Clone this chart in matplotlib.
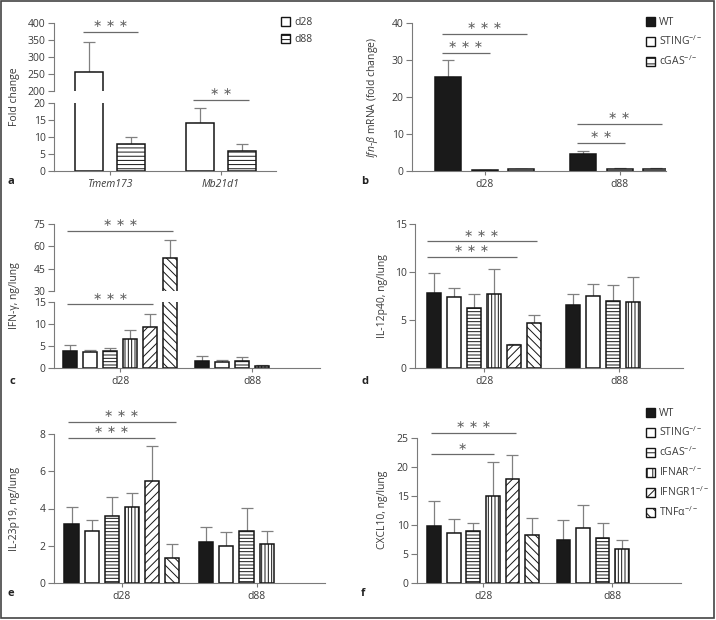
import numpy as np
import matplotlib
matplotlib.use("Agg")
from matplotlib import pyplot as plt
from matplotlib.patches import Patch, Rectangle

plt.rcParams['font.family'] = ['Open Sans', 'DejaVu Sans']
plt.rcParams['mathtext.fontset'] = 'custom'
plt.rcParams['mathtext.rm'] = 'Open Sans'
plt.rcParams['mathtext.it'] = 'Open Sans:italic'
plt.rcParams['hatch.linewidth'] = 0.7

# ---- data ----
genes = ['Tmem173', 'Mb21d1']
a_d28 = [255, 14.2]
a_d28_top = [343, 18.4]
a_d88 = [7.8, 5.9]
a_d88_top = [9.9, 7.9]

days = ['d28', 'd88']
genotypes = ['WT', 'STING', 'cGAS', 'IFNAR', 'IFNGR1', 'TNFα']

b_d28 = [25.5, 0.3, 0.5]
b_d28_top = [30.0, 0.4, 0.6]
b_d88 = [4.6, 0.6, 0.6]
b_d88_top = [5.4, 0.7, 0.7]

c_d28 = [3.9, 3.6, 3.8, 6.6, 9.4, 52.0]
c_d28_top = [5.2, 4.2, 4.5, 8.7, 12.2, 64.5]
c_d88 = [1.6, 1.3, 1.5, 0.5]
c_d88_top = [2.8, 1.9, 2.4, 0.6]

d_d28 = [7.8, 7.4, 6.3, 7.7, 2.4, 4.7]
d_d28_top = [9.9, 8.3, 7.7, 10.3, 2.5, 5.5]
d_d88 = [6.6, 7.5, 7.0, 6.9]
d_d88_top = [7.7, 8.7, 8.6, 9.5]

e_d28 = [3.15, 2.8, 3.6, 4.1, 5.5, 1.35]
e_d28_top = [4.1, 3.4, 4.6, 4.85, 7.35, 2.1]
e_d88 = [2.2, 2.0, 2.8, 2.1]
e_d88_top = [3.0, 2.75, 4.05, 2.8]

f_d28 = [9.9, 8.6, 9.0, 15.0, 18.0, 8.2]
f_d28_top = [14.2, 11.0, 10.4, 20.8, 22.1, 11.2]
f_d88 = [7.5, 9.4, 7.7, 5.9]
f_d88_top = [10.9, 13.4, 10.3, 7.4]

# ---- styles ----
W, H = 716, 620
AX_C = '#7a7a7a'
TXT_C = '#3a3a3a'
ERR_C = '#808080'
SIG_C = '#6a6a6a'
EDGE = '#151515'
faces = ['#1a1a1a', 'white', 'white', 'white', 'white', 'white']
hatches = ['', '', '-----', '|||||', '////', '\\\\\\\\']
leg_labels = ['WT', r'STING$^{-/-}$', r'cGAS$^{-/-}$', r'IFNAR$^{-/-}$',
              r'IFNGR1$^{-/-}$', r'TNFα$^{-/-}$']

fig = plt.figure(figsize=(W / 100, H / 100), dpi=100)


def px_axes(l, t, r, b):
    return fig.add_axes([l / W, 1 - b / H, (r - l) / W, (b - t) / H])


def style(ax, bottom=True):
    for s in ['top', 'right']:
        ax.spines[s].set_visible(False)
    ax.spines['left'].set_color(AX_C)
    ax.spines['left'].set_linewidth(0.8)
    if bottom:
        ax.spines['bottom'].set_color(AX_C)
        ax.spines['bottom'].set_linewidth(0.8)
    else:
        ax.spines['bottom'].set_visible(False)
        ax.set_xticks([])
    ax.tick_params(axis='y', length=4, width=0.8, color=AX_C,
                   labelsize=7.5, labelcolor=TXT_C, pad=2)
    ax.tick_params(axis='x', length=3, width=0.8, color=AX_C,
                   labelsize=7.5, labelcolor=TXT_C, pad=3)
    ax.patch.set_alpha(0)


def draw_bars(ax, pos, vals, tops, width, styles_idx, hatch_fix=None):
    vals = np.asarray(vals, float)
    tops = np.asarray(tops, float)
    ax.errorbar(pos, vals, yerr=[np.zeros_like(vals), tops - vals], fmt='none',
                ecolor=ERR_C, elinewidth=0.9, capsize=4.5, capthick=0.9, zorder=1)
    bars = ax.bar(pos, vals, width, edgecolor=EDGE, linewidth=1.1, zorder=2)
    for rect, k in zip(bars, styles_idx):
        rect.set_facecolor(faces[k])
        rect.set_hatch(hatch_fix if hatch_fix is not None and k else hatches[k])


def sig(ax, x0, x1, y, text):
    ax.plot([x0, x1], [y, y], color=SIG_C, lw=0.9, clip_on=False,
            solid_capstyle='butt')
    ax.annotate(text, ((x0 + x1) / 2, y), xytext=(0, 5.5), textcoords='offset points',
                ha='center', va='center', fontsize=8, color='#666666',
                family=['DejaVu Sans'], annotation_clip=False)


def ylabel(x, y, text):
    fig.text(x / W, 1 - y / H, text, rotation=90, ha='center', va='center',
             fontsize=7.5, color=TXT_C)


def letter(x, y, text):
    fig.text(x / W, 1 - y / H, text, ha='left', va='center', fontsize=8,
             fontweight='bold', color='#222222')


# ---- panel a (broken axis) ----
a_low = px_axes(54, 103, 276, 171)
a_up = px_axes(54, 23, 276, 91)
gc = np.array([0, 2.67])
for ax in (a_low, a_up):
    draw_bars(ax, gc - 0.5, a_d28, a_d28_top, 0.675, [1, 1])
    draw_bars(ax, gc + 0.5, a_d88, a_d88_top, 0.675, [2, 2], hatch_fix='----')
    ax.set_xlim(-1.35, 4.0)
a_low.set_ylim(0, 20)
a_low.set_yticks([0, 5, 10, 15, 20])
a_up.set_ylim(200, 400)
a_up.set_yticks([200, 250, 300, 350, 400])
style(a_low)
style(a_up, bottom=False)
a_low.set_xticks(gc)
a_low.set_xticklabels(genes, fontstyle='italic')
sig(a_up, gc[0] - 0.66, gc[0] + 0.67, 373.5, '∗ ∗ ∗')
sig(a_low, gc[1] - 0.66, gc[1] + 0.67, 20.9, '∗ ∗')
ylabel(15, 97, 'Fold change')
fig.legend([Patch(facecolor='white', edgecolor=EDGE, linewidth=1.0),
            Patch(facecolor='white', edgecolor=EDGE, linewidth=1.0, hatch='----')],
           ['d28', 'd88'], loc='upper left', bbox_to_anchor=(281 / W, 1 - 17 / H),
           frameon=False, handlelength=0.85, handleheight=0.85, handletextpad=0.4,
           labelspacing=0.6, borderpad=0, borderaxespad=0, fontsize=7.5,
           labelcolor=TXT_C)
letter(8, 182, 'a')

# ---- panel b ----
ax_b = px_axes(412, 23, 666, 171)
b0 = np.arange(len(b_d28))
b1 = 3.68 + np.arange(len(b_d88))
draw_bars(ax_b, b0, b_d28, b_d28_top, 0.71, [0, 1, 2])
draw_bars(ax_b, b1, b_d88, b_d88_top, 0.71, [0, 1, 2])
ax_b.set_xlim(-0.98, 5.94)
ax_b.set_ylim(0, 40)
ax_b.set_yticks([0, 10, 20, 30, 40])
style(ax_b)
ax_b.set_xticks([b0.mean(), b1.mean()])
ax_b.set_xticklabels(days)
sig(ax_b, b0[0] - 0.17, b0[2] + 0.15, 37, '∗ ∗ ∗')
sig(ax_b, b0[0] - 0.17, b0[1] + 0.15, 32, '∗ ∗ ∗')
sig(ax_b, b1[0] - 0.17, b1[2] + 0.15, 12.7, '∗ ∗')
sig(ax_b, b1[0] - 0.17, b1[1] + 0.15, 7.6, '∗ ∗')
ylabel(373, 97, r'$\mathit{Ifn}$-$\mathit{\beta}$ mRNA (fold change)')
fig.legend([Patch(facecolor=faces[k], edgecolor=EDGE, linewidth=1.0, hatch=hatches[k][:3])
            for k in range(3)], leg_labels[:3], loc='upper left',
           bbox_to_anchor=(646 / W, 1 - 17 / H), frameon=False, handlelength=0.85,
           handleheight=0.85, handletextpad=0.4, labelspacing=0.6, borderpad=0,
           borderaxespad=0, fontsize=7.5, labelcolor=TXT_C)
letter(361, 182, 'b')


def six_panel(axes, d28, d28_top, d88, d88_top, offset, xlim):
    p0 = np.arange(len(d28))
    p1 = offset + np.arange(len(d88))
    for ax in axes:
        draw_bars(ax, p0, d28, d28_top, 0.7, range(len(d28)))
        draw_bars(ax, p1, d88, d88_top, 0.7, range(len(d88)))
        ax.set_xlim(*xlim)
    return p0, p1


# ---- panel c (broken axis) ----
c_low = px_axes(54, 302, 320, 368)
c_up = px_axes(54, 224, 320, 291)
p0, p1 = six_panel([c_low, c_up], c_d28, c_d28_top, c_d88, c_d88_top, 6.6, (-0.825, 12.5))
c_low.set_ylim(0, 15)
c_low.set_yticks([0, 5, 10, 15])
c_up.set_ylim(30, 75)
c_up.set_yticks([30, 45, 60, 75])
style(c_low)
style(c_up, bottom=False)
c_low.set_xticks([2.5, 6.6 + 2.5])
c_low.set_xticklabels(days)
sig(c_up, p0[0] - 0.15, p0[5] + 0.15, 70.3, '∗ ∗ ∗')
sig(c_low, p0[0] - 0.15, p0[4] + 0.15, 14.5, '∗ ∗ ∗')
ylabel(15, 296, 'IFN-γ, ng/lung')
letter(10, 382, 'c')

# ---- panel d ----
ax_d = px_axes(415, 224, 683, 368)
p0, p1 = six_panel([ax_d], d_d28, d_d28_top, d_d88, d_d88_top, 6.95, (-0.95, 12.45))
ax_d.set_ylim(0, 15)
ax_d.set_yticks([0, 5, 10, 15])
style(ax_d)
ax_d.set_xticks([2.5, 6.95 + 2.3])
ax_d.set_xticklabels(days)
sig(ax_d, p0[0] - 0.35, p0[5] + 0.15, 13.2, '∗ ∗ ∗')
sig(ax_d, p0[0] - 0.35, p0[4] + 0.15, 11.6, '∗ ∗ ∗')
ylabel(383, 296, 'IL-12p40, ng/lung')
letter(361, 382, 'd')

# ---- panel e ----
ax_e = px_axes(54, 434, 325, 583)
p0, p1 = six_panel([ax_e], e_d28, e_d28_top, e_d88, e_d88_top, 6.7, (-0.87, 12.6))
ax_e.set_ylim(0, 8)
ax_e.set_yticks([0, 2, 4, 6, 8])
style(ax_e)
ax_e.set_xticks([2.5, 6.7 + 2.5])
ax_e.set_xticklabels(days)
sig(ax_e, p0[0] - 0.18, p0[5] + 0.2, 8.66, '∗ ∗ ∗')
sig(ax_e, p0[0] - 0.18, p0[4] + 0.15, 7.8, '∗ ∗ ∗')
ylabel(15, 509, 'IL-23p19, ng/lung')
letter(8, 593, 'e')

# ---- panel f ----
ax_f = px_axes(417, 438, 681, 583)
p0, p1 = six_panel([ax_f], f_d28, f_d28_top, f_d88, f_d88_top, 6.6, (-0.87, 12.6))
ax_f.set_ylim(0, 25)
ax_f.set_yticks([0, 5, 10, 15, 20, 25])
style(ax_f)
ax_f.set_xticks([2.5, 6.6 + 2.5])
ax_f.set_xticklabels(days)
sig(ax_f, p0[0] - 0.15, p0[4] + 0.2, 25.9, '∗ ∗ ∗')
sig(ax_f, p0[0] - 0.15, p0[3] + 0.05, 22.2, '∗')
ylabel(383, 510, 'CXCL10, ng/lung')
fig.legend([Patch(facecolor=faces[k], edgecolor=EDGE, linewidth=1.0, hatch=hatches[k][:3])
            for k in range(6)], leg_labels, loc='upper left',
           bbox_to_anchor=(646 / W, 1 - 408 / H), frameon=False, handlelength=0.85,
           handleheight=0.85, handletextpad=0.4, labelspacing=0.6, borderpad=0,
           borderaxespad=0, fontsize=7.5, labelcolor=TXT_C)
letter(361, 593, 'f')

# frame around the whole figure
fig.add_artist(Rectangle((0.8 / W, 1 - 617.5 / H), 713.5 / W, 616.7 / H,
                         transform=fig.transFigure, fill=False,
                         edgecolor='#444444', linewidth=1.2))

fig.savefig('out.png', dpi=100)
